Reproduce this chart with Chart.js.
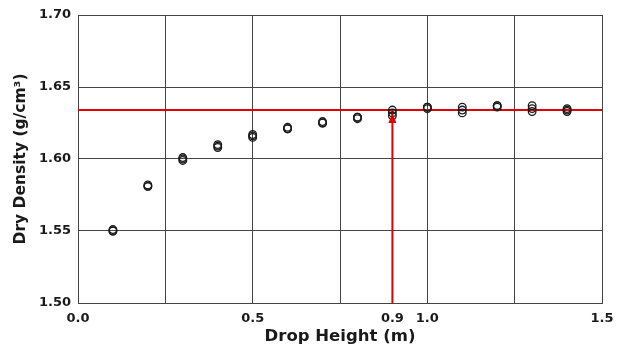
<!DOCTYPE html>
<html>
<head>
<meta charset="utf-8">
<script src="https://cdn.jsdelivr.net/npm/chart.js@4"></script>
<style>
  html, body { margin: 0; padding: 0; background: #fff; }
  #wrap { width: 626px; height: 349px; }
</style>
</head>
<body>
<div id="wrap"><canvas id="chartCanvas" width="626" height="349"></canvas></div>
<script>
// drop heights (m) and dry densities of three repeat tests
const heights = [0.1, 0.2, 0.3, 0.4, 0.5, 0.6, 0.7, 0.8, 0.9, 1.0, 1.1, 1.2, 1.3, 1.4];
const testA = [1.550, 1.581, 1.599, 1.608, 1.615, 1.621, 1.625, 1.628, 1.630, 1.635, 1.632, 1.636, 1.633, 1.633];
const testB = [1.551, 1.582, 1.601, 1.610, 1.617, 1.622, 1.625, 1.629, 1.632, 1.636, 1.634, 1.637, 1.635, 1.634];
const testC = [1.550, 1.581, 1.600, 1.609, 1.616, 1.621, 1.626, 1.629, 1.634, 1.636, 1.636, 1.637, 1.637, 1.635];

// maximum density level and the chosen drop height
const maxDensity = 1.634;
const chosenHeight = 0.9;

const xTickLabels = [0.0, 0.5, 0.9, 1.0, 1.5];
const xGridSteps = [0, 0.25, 0.5, 0.75, 1.0, 1.25, 1.5];
const yTicks = [1.50, 1.55, 1.60, 1.65, 1.70];

const FONT = "'DejaVu Sans', 'Noto Sans', sans-serif";

function pointsOf(vals) {
  return heights.map((h, i) => ({ x: h, y: vals[i] }));
}

function scatterSet(vals) {
  return {
    type: 'scatter',
    data: pointsOf(vals),
    pointStyle: 'circle',
    pointRadius: 3.8,
    borderWidth: 1.3,
    borderColor: '#1a1a1a',
    backgroundColor: 'rgba(255,255,255,0)',
  };
}

// arrow head at the top of the vertical red line
const arrowHead = {
  id: 'arrowHead',
  afterDatasetsDraw(chart) {
    const meta = chart.getDatasetMeta(4);
    if (!meta || !meta.data.length) return;
    const tip = meta.data[meta.data.length - 1];
    const ctx = chart.ctx;
    ctx.save();
    ctx.fillStyle = '#e00000';
    ctx.beginPath();
    ctx.moveTo(tip.x, tip.y + 3);
    ctx.lineTo(tip.x - 4, tip.y + 13);
    ctx.lineTo(tip.x + 4, tip.y + 13);
    ctx.closePath();
    ctx.fill();
    ctx.restore();
  }
};

const config = {
  type: 'scatter',
  data: {
    datasets: [
      {
        type: 'line',
        data: [{ x: 0, y: maxDensity }, { x: 1.5, y: maxDensity }],
        borderColor: '#e00000',
        borderWidth: 2,
        pointRadius: 0,
        order: 5,
      },
      scatterSet(testA),
      scatterSet(testB),
      scatterSet(testC),
      {
        type: 'line',
        data: [{ x: chosenHeight, y: 1.50 }, { x: chosenHeight, y: maxDensity }],
        borderColor: '#e00000',
        borderWidth: 2,
        pointRadius: 0,
        order: 4,
      },
    ],
  },
  options: {
    responsive: false,
    animation: false,
    layout: { padding: { left: 0, right: 24, top: 15, bottom: 0 } },
    plugins: {
      legend: { display: false },
      tooltip: { enabled: false },
    },
    scales: {
      x: {
        type: 'linear',
        min: 0,
        max: 1.5,
        afterBuildTicks: (scale) => {
          const vals = [...new Set([...xGridSteps, ...xTickLabels])].sort((a, b) => a - b);
          scale.ticks = vals.map(v => ({ value: v }));
        },
        afterFit: (scale) => { scale.height = 46; },
        ticks: {
          autoSkip: false,
          maxRotation: 0,
          padding: 8,
          color: '#1a1a1a',
          font: { family: FONT, size: 13, weight: 'bold' },
          callback: (v) => xTickLabels.some(t => Math.abs(t - v) < 1e-9) ? Number(v).toFixed(1) : '',
        },
        grid: {
          drawTicks: false,
          lineWidth: 1,
          color: (c) => Math.abs(c.tick.value - chosenHeight) < 1e-9 ? 'rgba(0,0,0,0)' : '#444',
        },
        border: { color: '#444', width: 1 },
        title: {
          display: true,
          text: 'Drop Height (m)',
          color: '#1a1a1a',
          font: { family: FONT, size: 16.5, weight: 'bold' },
          padding: { top: 0, bottom: 2 },
        },
      },
      y: {
        type: 'linear',
        min: 1.50,
        max: 1.70,
        afterBuildTicks: (scale) => { scale.ticks = yTicks.map(v => ({ value: v })); },
        afterFit: (scale) => { scale.width = 78; },
        ticks: {
          padding: 7,
          color: '#1a1a1a',
          font: { family: FONT, size: 13, weight: 'bold' },
          callback: (v) => Number(v).toFixed(2),
        },
        grid: { drawTicks: false, color: '#444', lineWidth: 1 },
        border: { color: '#444', width: 1 },
        title: {
          display: true,
          text: 'Dry Density (g/cm³)',
          color: '#1a1a1a',
          font: { family: FONT, size: 15.5, weight: 'bold' },
          padding: { top: 12, bottom: 0 },
        },
      },
    },
  },
  plugins: [arrowHead],
};

new Chart(document.getElementById('chartCanvas'), config);
</script>
</body>
</html>
